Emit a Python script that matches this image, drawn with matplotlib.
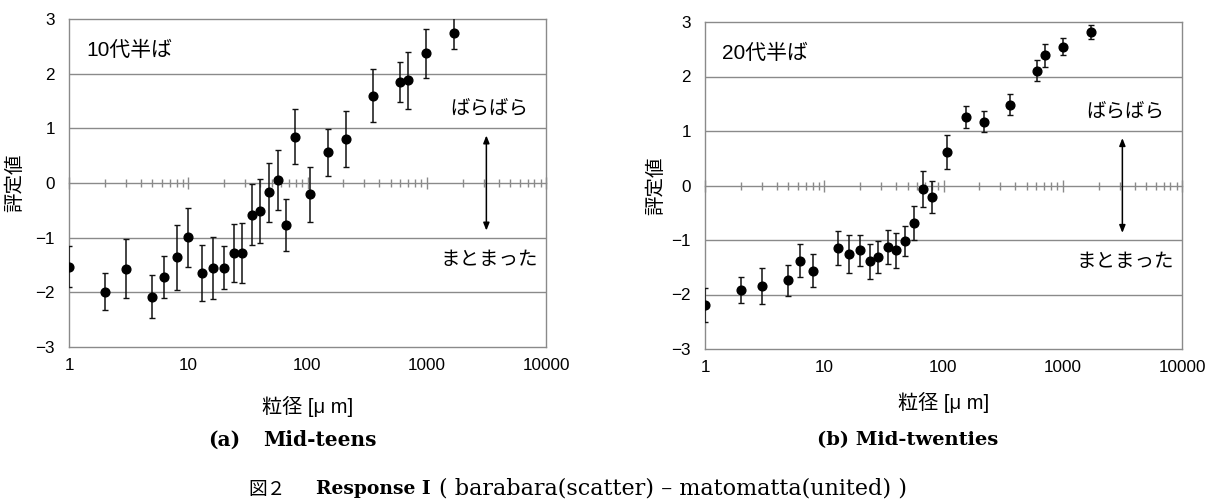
import numpy as np
import matplotlib
matplotlib.use("Agg")
import matplotlib.pyplot as plt
from matplotlib.ticker import LogLocator, NullFormatter, FixedLocator

plt.rcParams['font.family'] = ['Liberation Sans', 'Noto Sans CJK JP', 'DejaVu Sans']

# ---------------- data ----------------
x_teen = [1, 2, 3, 5, 6.3, 8, 10, 13, 16, 20, 24, 28, 34, 40, 48, 57, 66, 79,
          105, 150, 211, 355, 595, 700, 980, 1680]
y_teen = [-1.53, -1.99, -1.57, -2.08, -1.72, -1.36, -0.99, -1.65, -1.55, -1.55,
          -1.28, -1.28, -0.58, -0.51, -0.17, 0.05, -0.77, 0.85, -0.21, 0.56,
          0.80, 1.60, 1.85, 1.88, 2.37, 2.74]
e_teen = [0.37, 0.34, 0.54, 0.39, 0.39, 0.59, 0.54, 0.51, 0.57, 0.39, 0.53, 0.55,
          0.56, 0.58, 0.54, 0.55, 0.48, 0.51, 0.51, 0.43, 0.51, 0.49, 0.37, 0.52,
          0.45, 0.29]

x_twenty = [1, 2, 3, 5, 6.3, 8, 13, 16, 20, 24, 28, 34, 40, 48, 57, 67, 80, 108,
            153, 217, 363, 609, 715, 1013, 1731]
y_twenty = [-2.19, -1.92, -1.85, -1.74, -1.38, -1.56, -1.14, -1.26, -1.19, -1.39,
            -1.31, -1.13, -1.19, -1.02, -0.69, -0.07, -0.21, 0.61, 1.25, 1.17,
            1.48, 2.11, 2.39, 2.55, 2.81]
e_twenty = [0.31, 0.24, 0.33, 0.28, 0.30, 0.30, 0.31, 0.35, 0.29, 0.32, 0.29, 0.31,
            0.32, 0.27, 0.31, 0.33, 0.30, 0.31, 0.20, 0.19, 0.19, 0.19, 0.21, 0.15,
            0.13]

x_ticks = [1, 10, 100, 1000, 10000]
x_ticklabels = ["1", "10", "100", "1000", "10000"]
y_ticks = [-3, -2, -1, 0, 1, 2, 3]
grid_levels = [-2, -1, 1, 2]
arrow_x = 3162
arrow_span = (-0.87, 0.87)

panel_titles = ["10代半ば", "20代半ば"]
label_scatter = "ばらばら"
label_united = "まとまった"
xlabel = "粒径 [μ m]"
ylabel = "評定値"

W, H = 1208, 504
fig = plt.figure(figsize=(W / 100, H / 100), dpi=100)
fig.patch.set_facecolor("white")

GRAY = "#8a8a8a"

def make_panel(px_rect, xs, ys, es, title, ylabel_off, xlabel_off):
    x0, y0, x1, y1 = px_rect
    rect = [x0 / W, 1 - y1 / H, (x1 - x0) / W, (y1 - y0) / H]
    ax = fig.add_axes(rect)
    ax.set_zorder(2)
    ax.patch.set_visible(False)
    ax.set_xscale("log")
    ax.set_xlim(1, 10000)
    ax.set_ylim(-3, 3)
    ax.xaxis.set_major_locator(FixedLocator(x_ticks))
    ax.set_xticklabels(x_ticklabels)
    ax.xaxis.set_minor_locator(FixedLocator([]))
    ax.set_yticks(y_ticks)
    ax.tick_params(axis="both", length=0, labelsize=12.3, colors="black")
    ax.tick_params(axis="y", pad=10)
    ax.tick_params(axis="x", pad=8)
    for s in ax.spines.values():
        s.set_color(GRAY)
        s.set_linewidth(1.0)
    for g in grid_levels:
        ax.axhline(g, color=GRAY, lw=1.0, zorder=0)

    ax.errorbar(xs, ys, yerr=es, fmt="o", color="black", ms=6.3,
                ecolor="#111111", elinewidth=1.1, capsize=2.5, capthick=1.0,
                zorder=3)

    # zero line with log ticks
    axz = ax.twiny()
    axz.set_zorder(1)
    axz.set_xscale("log")
    axz.set_xlim(1, 10000)
    for k, s in axz.spines.items():
        s.set_visible(k == "bottom")
    axz.spines["bottom"].set_position(("data", 0))
    axz.spines["bottom"].set_color(GRAY)
    axz.spines["bottom"].set_linewidth(1.0)
    axz.xaxis.set_ticks_position("bottom")
    axz.xaxis.set_major_locator(LogLocator(base=10, numticks=10))
    axz.xaxis.set_minor_locator(LogLocator(base=10, subs=np.arange(2, 10), numticks=20))
    axz.xaxis.set_minor_formatter(NullFormatter())
    axz.tick_params(axis="x", which="major", direction="inout", length=9,
                    width=1.0, color=GRAY, labelbottom=False, labeltop=False)
    axz.tick_params(axis="x", which="minor", direction="inout", length=6,
                    width=1.0, color=GRAY, labelbottom=False, labeltop=False)
    axz.set_ylim(-3, 3)

    ax.annotate("", xy=(arrow_x, arrow_span[1]), xytext=(arrow_x, arrow_span[0]),
                arrowprops=dict(arrowstyle="<|-|>,head_length=0.45,head_width=0.18",
                                color="black", lw=1.1, shrinkA=0, shrinkB=0),
                zorder=4)

    ax.text(0.036, 0.905, title, transform=ax.transAxes, ha="left", va="center",
            fontsize=15)
    ax.text(0.88, 0.725, label_scatter, transform=ax.transAxes, ha="center",
            va="center", fontsize=14)
    ax.text(0.88, 0.263, label_united, transform=ax.transAxes, ha="center",
            va="center", fontsize=14)

    ax.text(-ylabel_off / (x1 - x0), 0.5, ylabel, transform=ax.transAxes,
            rotation=90, ha="center", va="center", fontsize=14)
    ax.text(0.5, -xlabel_off / (y1 - y0), xlabel, transform=ax.transAxes,
            ha="center", va="center", fontsize=14.5)
    return ax

make_panel((69, 19, 546, 347), x_teen, y_teen, e_teen, panel_titles[0], 54, 59)
make_panel((705, 22, 1182, 349), x_twenty, y_twenty, e_twenty, panel_titles[1], 49, 53)

def ftext(x, y, s, **kw):
    return fig.text(x / W, 1 - y / H, s, va="center", ha="left", **kw)

SERIF = ["DejaVu Serif"]
ftext(208, 440, "(a)", family=SERIF, fontweight="bold", fontsize=14.5)
ftext(263, 440, "Mid-teens", family=SERIF, fontweight="bold", fontsize=14.5)
ftext(817, 440, "(b) Mid-twenties", family=SERIF, fontweight="bold", fontsize=14)
ftext(248, 489, "図２", family=["Noto Sans CJK JP"], fontsize=13.5)
ftext(316, 489, "Response I", family=SERIF, fontweight="bold", fontsize=13.5)
ftext(439, 489, "( barabara(scatter) – matomatta(united) )", family=SERIF,
      fontsize=16)

fig.savefig("out.png", dpi=100)
